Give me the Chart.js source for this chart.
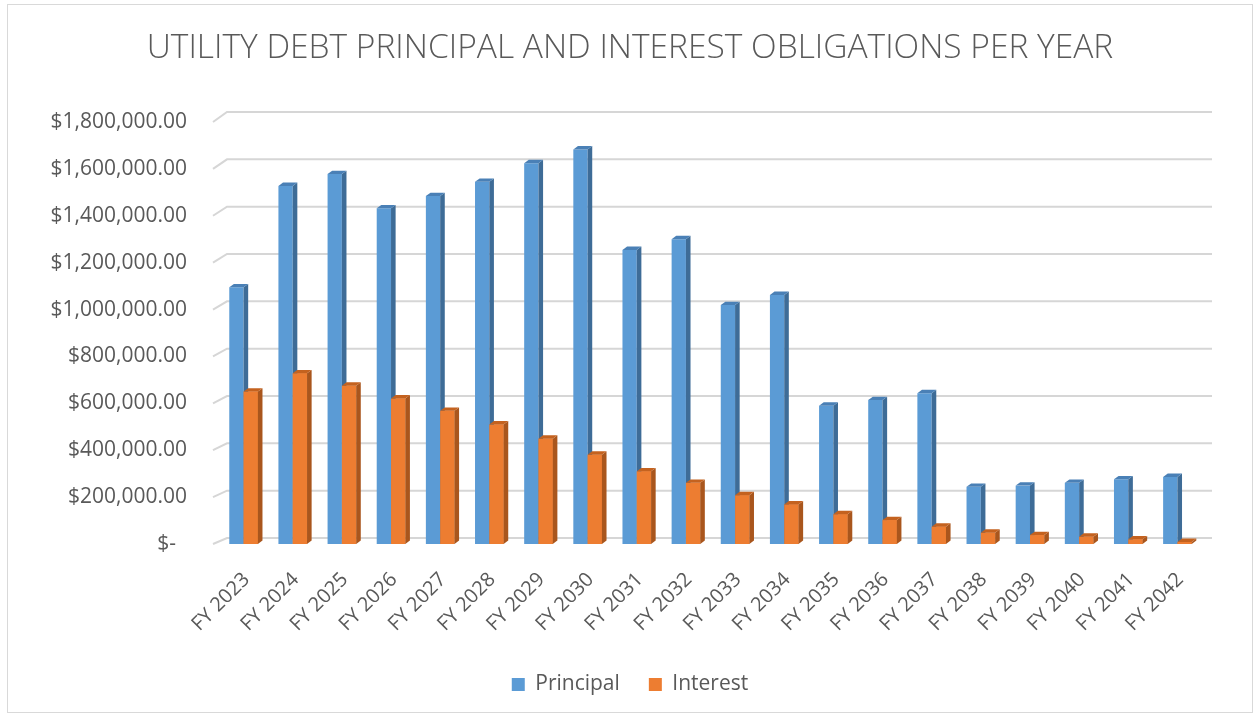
<!DOCTYPE html>
<html><head><meta charset="utf-8">
<script src="https://cdn.jsdelivr.net/npm/chart.js@4.4.0/dist/chart.umd.min.js"></script>
<style>html,body{margin:0;padding:0;background:#fff;} #wrap{width:1260px;height:717px;position:relative;}</style>
</head><body><div id="wrap"><canvas id="c" width="1260" height="717"></canvas></div>
<script>
const chartTitle = 'UTILITY DEBT PRINCIPAL AND INTEREST OBLIGATIONS PER YEAR';
const categories = ['FY 2023','FY 2024','FY 2025','FY 2026','FY 2027','FY 2028','FY 2029','FY 2030','FY 2031','FY 2032','FY 2033','FY 2034','FY 2035','FY 2036','FY 2037','FY 2038','FY 2039','FY 2040','FY 2041','FY 2042'];
const principal = [1095000,1527000,1578000,1432000,1484000,1545000,1624000,1683000,1254000,1300000,1019000,1062000,590000,614000,643000,244000,249000,261000,276000,286000];
const interest = [650000,728000,675000,621000,568000,510000,449000,381000,310000,261000,208000,169000,127000,102000,74000,48000,38000,31000,20000,8500];
const yTicks = [0,200000,400000,600000,800000,1000000,1200000,1400000,1600000,1800000];
const seriesNames = ['Principal','Interest'];

const FONT = 'Open Sans';
const TEXT = '#595959';
const GRID = '#D6D6D6';
const DEPTH = {dx: 4.6, dy: -3.4};
const WALL = {front: -6, back: 8, right: 10, drop: 6, persp: 1.0095};
const shade = [{side:'#3E6C97', top:'#4A80B6'}, {side:'#A9561D', top:'#C4621F'}];

const frame = {
  id:'frame',
  beforeDraw(chart){
    const c = chart.ctx; c.save();
    c.fillStyle='#fff'; c.fillRect(0,0,chart.width,chart.height);
    c.strokeStyle='#D9D9D9'; c.lineWidth=1;
    c.strokeRect(7.5,4.5,chart.width-15,chart.height-9);
    c.restore();
  }
};
const wall = {
  id:'wall',
  beforeDatasetsDraw(chart){
    const y = chart.scales.y, x = chart.scales.x, c = chart.ctx;
    c.save(); c.strokeStyle = GRID; c.lineWidth = 2;
    y.ticks.forEach(t => {
      const py = y.getPixelForValue(t.value);
      const by = y.bottom - WALL.drop - (y.bottom - py) * WALL.persp;
      c.beginPath();
      c.moveTo(x.left + WALL.front, py);
      c.lineTo(x.left + WALL.back, by);
      c.lineTo(x.right + WALL.right, by);
      c.stroke();
    });
    c.restore();
  }
};
function faces(c, el, s){
  const p = el.getProps(['x','y','base','width'], true);
  const l = p.x - p.width/2, r = p.x + p.width/2;
  c.fillStyle = s.side;
  c.beginPath(); c.moveTo(r,p.y); c.lineTo(r+DEPTH.dx,p.y+DEPTH.dy); c.lineTo(r+DEPTH.dx,p.base+DEPTH.dy); c.lineTo(r,p.base); c.closePath(); c.fill();
  c.fillStyle = s.top;
  c.beginPath(); c.moveTo(l,p.y); c.lineTo(l+DEPTH.dx,p.y+DEPTH.dy); c.lineTo(r+DEPTH.dx,p.y+DEPTH.dy); c.lineTo(r,p.y); c.closePath(); c.fill();
}
const bar3d = {
  id:'bar3d',
  afterDatasetsDraw(chart){
    const c = chart.ctx;
    const m0 = chart.getDatasetMeta(0), m1 = chart.getDatasetMeta(1);
    c.save();
    m0.data.forEach((el, i) => {
      faces(c, el, shade[0]);
      m1.data[i].draw(c);
      faces(c, m1.data[i], shade[1]);
    });
    c.restore();
  }
};

const fmt = v => v === 0 ? '$-  ' : '$' + Number(v).toLocaleString('en-US',{minimumFractionDigits:2, maximumFractionDigits:2});

new Chart(document.getElementById('c'), {
  type:'bar',
  data:{
    labels: categories,
    datasets:[
      {label: seriesNames[0], data: principal, backgroundColor:'#5B9BD5', borderWidth:0},
      {label: seriesNames[1], data: interest, backgroundColor:'#ED7D31', borderWidth:0}
    ]
  },
  options:{
    responsive:false, animation:false, devicePixelRatio:1,
    layout:{padding:{left:0,right:0,top:0,bottom:12}},
    datasets:{bar:{categoryPercentage:0.582, barPercentage:1}},
    plugins:{
      title:{display:true, text:chartTitle, color:TEXT, font:{family:FONT,size:33.5,weight:'300'}, padding:{top:28,bottom:53.8}},
      legend:{position:'bottom', labels:{color:TEXT, font:{family:FONT,size:21}, boxWidth:13, boxHeight:13, padding:29}},
      tooltip:{enabled:false}
    },
    scales:{
      x:{grid:{display:false}, border:{display:false},
         ticks:{color:TEXT, font:{family:FONT,size:20}, minRotation:45, maxRotation:45, autoSkip:false, padding:16, labelOffset:3},
         afterFit:s=>{s.height=101;}},
      y:{min:0, max:1800000, grid:{display:false}, border:{display:false},
         afterBuildTicks:s=>{s.ticks = yTicks.map(v=>({value:v}));},
         ticks:{color:TEXT, font:{family:FONT,size:21}, padding:24, callback:fmt},
         afterFit:s=>{s.width=219;}},
      y2:{position:'right', display:true, grid:{display:false}, border:{display:false}, ticks:{display:false},
          afterFit:s=>{s.width=58;}}
    }
  },
  plugins:[frame, wall, bar3d]
});
</script></body></html>
